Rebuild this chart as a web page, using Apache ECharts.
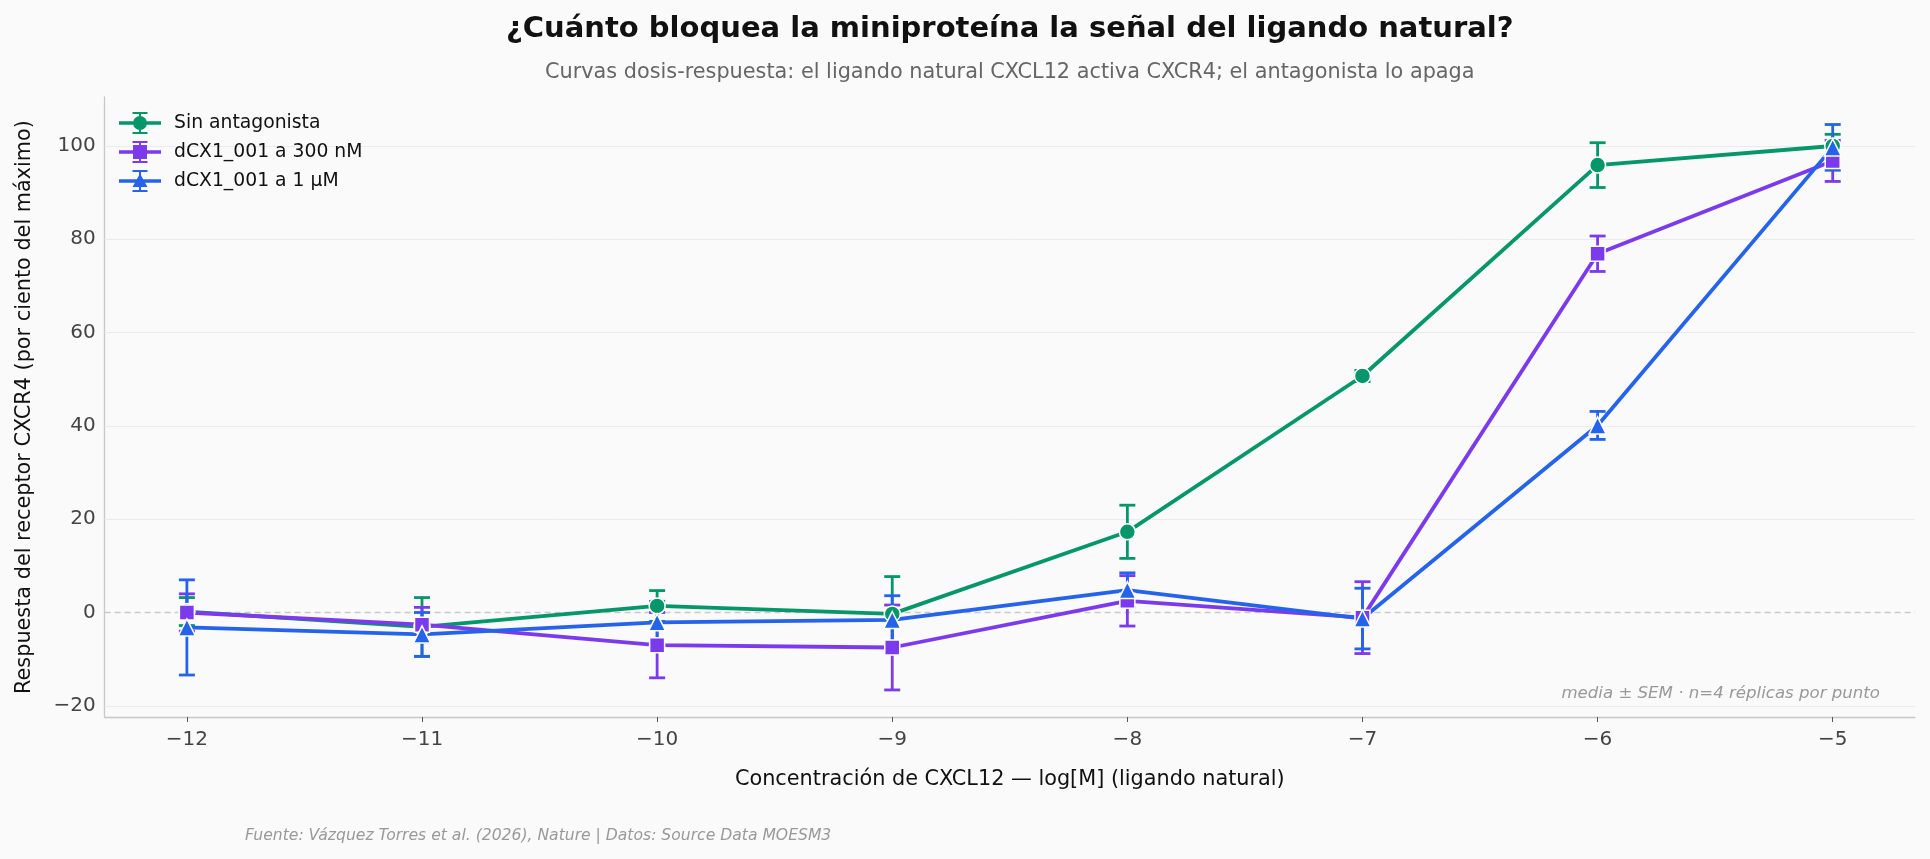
<!DOCTYPE html>
<html lang="es">
<head>
<meta charset="utf-8">
<title>Curvas dosis-respuesta CXCL12 / CXCR4</title>
<script src="https://cdn.jsdelivr.net/npm/echarts@6.0.0/dist/echarts.min.js"></script>
<style>
  html, body { margin: 0; padding: 0; background: #fafafa; }
  #chart { width: 1930px; height: 859px; }
</style>
</head>
<body>
<div id="chart"></div>
<script>
// log[M] de CXCL12
const logConc = [-12, -11, -10, -9, -8, -7, -6, -5]
const xTicks = [-12, -11, -10, -9, -8, -7, -6, -5]
const yTicks = [-20, 0, 20, 40, 60, 80, 100]

// respuesta media (% del máximo) y SEM, n=4
const sinMean = [0.2, -3.1, 1.4, -0.3, 17.3, 50.7, 95.9, 100.0]
const sinSem = [3.0, 6.3, 3.3, 8.0, 5.7, 1.2, 4.8, 2.5]
const nm300Mean = [0.0, -2.6, -7.0, -7.5, 2.5, -1.1, 76.9, 96.8]
const nm300Sem = [4.0, 3.7, 7.0, 9.1, 5.4, 7.7, 3.8, 4.4]
const um1Mean = [-3.2, -4.7, -2.1, -1.6, 4.8, -1.3, 40.1, 99.7]
const um1Sem = [10.2, 4.7, 4.5, 5.2, 3.7, 6.5, 3.0, 4.9]

const FONT = "'DejaVu Sans', 'Noto Sans', sans-serif"
const GREEN = '#059669'
const PURPLE = '#7c3aed'
const BLUE = '#2563eb'

const GRID = { left: 104.6, right: 15, top: 97, bottom: 142 }
const PLOT_CX = GRID.left + (1930 - GRID.left - GRID.right) / 2

const minus = (v) => String(v).replace('-', '\u2212')

// legend icon: line + error bar with caps + marker (42 x 22 box)
const ICON_BASE = 'M0 9.3H42V12.7H0Z M20 1H22V21H20Z M13.5 0H28.5V2H13.5Z M13.5 20H28.5V22H13.5Z '
const ICONS = {
  circle: 'path://' + ICON_BASE + 'M14 11A7 7 0 1 1 28 11A7 7 0 1 1 14 11Z',
  rect: 'path://' + ICON_BASE + 'M14 4H28V18H14Z',
  triangle: 'path://' + ICON_BASE + 'M21 3.5L28.5 17H13.5Z',
}

function errorBars(name, color, mean, sem) {
  return {
    type: 'custom',
    name: name + ' (SEM)',
    silent: true,
    z: 2,
    data: logConc.map((x, i) => [x, mean[i] - sem[i], mean[i] + sem[i]]),
    encode: { x: 0, y: [1, 2] },
    renderItem(params, api) {
      const lo = api.coord([api.value(0), api.value(1)])
      const hi = api.coord([api.value(0), api.value(2)])
      const hw = 8
      const style = { stroke: color, lineWidth: 2.8 }
      return {
        type: 'group',
        children: [
          { type: 'line', shape: { x1: lo[0], y1: lo[1], x2: hi[0], y2: hi[1] }, style },
          { type: 'line', shape: { x1: lo[0] - hw, y1: lo[1], x2: lo[0] + hw, y2: lo[1] }, style },
          { type: 'line', shape: { x1: hi[0] - hw, y1: hi[1], x2: hi[0] + hw, y2: hi[1] }, style },
        ],
      }
    },
  }
}

function meanLine(name, color, mean, symbol, size) {
  return {
    type: 'line',
    name,
    z: 2,
    data: logConc.map((x, i) => [x, mean[i]]),
    symbol,
    symbolSize: size,
    showAllSymbol: true,
    lineStyle: { color, width: 3.8 },
    itemStyle: { color, borderColor: '#ffffff', borderWidth: 1.5 },
    emphasis: { disabled: true },
  }
}

const gridLines = yTicks.map((v) => v === 0
  ? { yAxis: v, lineStyle: { color: '#c9c9c9', width: 1.3, type: [6, 4] } }
  : { yAxis: v, lineStyle: { color: '#ebebeb', width: 1, type: 'solid' } })

const chart = echarts.init(document.getElementById('chart'), null, { renderer: 'canvas' })

chart.setOption({
  animation: false,
  backgroundColor: '#fafafa',
  textStyle: { fontFamily: FONT },
  title: [
    {
      text: 'Fuente: Vázquez Torres et al. (2026), Nature | Datos: Source Data MOESM3',
      left: 240, top: 823,
      textStyle: { fontFamily: FONT, fontSize: 15.6, fontWeight: 'normal', fontStyle: 'italic', color: '#999' },
    },
  ],
  graphic: [
    {
      type: 'text', x: PLOT_CX, y: 29,
      style: {
        text: '¿Cuánto bloquea la miniproteína la señal del ligando natural?',
        font: `bold 29px ${FONT}`, fill: '#111', textAlign: 'center', textVerticalAlign: 'middle',
      },
    },
    {
      type: 'text', x: PLOT_CX, y: 72.5,
      style: {
        text: 'Curvas dosis-respuesta: el ligando natural CXCL12 activa CXCR4; el antagonista lo apaga',
        font: `20.8px ${FONT}`, fill: '#666', textAlign: 'center', textVerticalAlign: 'middle',
      },
    },
    {
      type: 'text', right: 50, top: 685,
      style: {
        text: 'media ± SEM · n=4 réplicas por punto',
        font: `italic 16.6px ${FONT}`, fill: '#999',
      },
    },
  ],
  legend: {
    orient: 'vertical',
    left: 119, top: 112,
    padding: 0,
    itemWidth: 42, itemHeight: 22, itemGap: 7,
    itemStyle: { borderWidth: 0 },
    data: [
      { name: 'Sin antagonista', icon: ICONS.circle },
      { name: 'dCX1_001 a 300 nM', icon: ICONS.rect },
      { name: 'dCX1_001 a 1 µM', icon: ICONS.triangle },
    ],
    textStyle: { fontFamily: FONT, fontSize: 18.8, color: '#111', padding: [0, 0, 0, 8] },
  },
  grid: { ...GRID, containLabel: false },
  xAxis: {
    type: 'value',
    min: -12.35, max: -4.65,
    name: 'Concentración de CXCL12 — log[M] (ligando natural)',
    nameLocation: 'middle', nameGap: 52,
    nameTextStyle: { fontFamily: FONT, fontSize: 20.8, color: '#111' },
    axisLine: { show: true, onZero: false, lineStyle: { color: '#c8c8c8', width: 1.3 } },
    axisTick: { show: true, customValues: xTicks, length: 5, lineStyle: { color: '#555', width: 1 } },
    axisLabel: { customValues: xTicks, margin: 13, fontFamily: FONT, fontSize: 20, color: '#444', formatter: minus },
    splitLine: { show: false },
  },
  yAxis: {
    type: 'value',
    min: -22.4, max: 110.5,
    name: 'Respuesta del receptor CXCR4 (por ciento del máximo)',
    nameLocation: 'middle', nameGap: 69, nameRotate: 90,
    nameTextStyle: { fontFamily: FONT, fontSize: 20.8, color: '#111' },
    axisLine: { show: true, lineStyle: { color: '#c8c8c8', width: 1.3 } },
    axisTick: { show: false },
    axisLabel: { customValues: yTicks, margin: 9, fontFamily: FONT, fontSize: 20, color: '#444', formatter: minus },
    splitLine: { show: false },
  },
  series: [
    {
      type: 'line', name: 'rejilla', data: [], silent: true, z: 1,
      markLine: { silent: true, symbol: 'none', label: { show: false }, z: 1, animation: false, data: gridLines },
    },
    errorBars('Sin antagonista', GREEN, sinMean, sinSem),
    meanLine('Sin antagonista', GREEN, sinMean, 'circle', 16),
    errorBars('dCX1_001 a 300 nM', PURPLE, nm300Mean, nm300Sem),
    meanLine('dCX1_001 a 300 nM', PURPLE, nm300Mean, 'rect', 15),
    errorBars('dCX1_001 a 1 µM', BLUE, um1Mean, um1Sem),
    meanLine('dCX1_001 a 1 µM', BLUE, um1Mean, 'triangle', 17),
  ],
})
</script>
</body>
</html>
